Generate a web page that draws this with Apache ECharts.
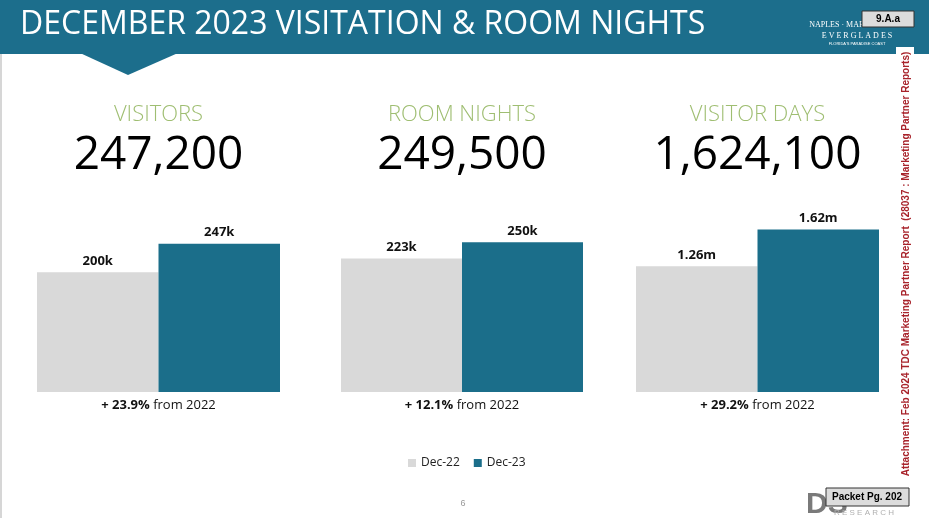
<!DOCTYPE html>
<html>
<head>
<meta charset="utf-8">
<script src="https://cdn.jsdelivr.net/npm/echarts@6/dist/echarts.min.js"></script>
<style>
  html, body { margin: 0; padding: 0; background: #ffffff; }
  #chart { width: 929px; height: 518px; }
</style>
</head>
<body>
<div id="chart"></div>
<script>
// ---- data ----
const seriesNames = ['Dec-22', 'Dec-23'];
const metrics = ['VISITORS', 'ROOM NIGHTS', 'VISITOR DAYS'];
const totals = ['247,200', '249,500', '1,624,100'];
const dec22 = [199500, 222600, 1257000];
const dec23 = [247200, 249500, 1624100];
const changes = ['+ 23.9%', '+ 12.1%', '+ 29.2%'];
const changeSuffix = ' from 2022';
const axisMax = [300000, 300000, 1800000];

// ---- layout ----
const gridLeft = [37, 341, 636];
const gridWidth = [243, 242, 243];
const gridTop = 212, gridHeight = 180;
const GREY = '#d9d9d9', TEAL = '#1b6e8a', HEAD = '#1c6e8c', GREEN = '#9fbe72';
const FONT = '"Open Sans", Lato, sans-serif';

function fmt(v) {
  if (v >= 1e6) return (v / 1e6).toFixed(2) + 'm';
  return Math.round(v / 1000) + 'k';
}

const grids = [], xAxes = [], yAxes = [], series = [], graphics = [];
metrics.forEach((m, i) => {
  grids.push({ left: gridLeft[i], width: gridWidth[i], top: gridTop, height: gridHeight });
  xAxes.push({ type: 'category', gridIndex: i, data: [m], show: false });
  yAxes.push({ type: 'value', gridIndex: i, min: 0, max: axisMax[i], show: false });
  [dec22, dec23].forEach((arr, s) => {
    series.push({
      name: seriesNames[s], type: 'bar', xAxisIndex: i, yAxisIndex: i,
      data: [arr[i]], barGap: '0%', barCategoryGap: '0%',
      itemStyle: { color: s === 0 ? GREY : TEAL },
      label: {
        show: true, position: 'top', distance: 5,
        formatter: p => fmt(p.value),
        fontFamily: FONT, fontWeight: 'bold', fontSize: 13, color: '#111'
      },
      emphasis: { disabled: true }, animation: false
    });
  });
  const cx = gridLeft[i] + gridWidth[i] / 2;
  graphics.push({
    type: 'text', x: cx, y: 115,
    style: { text: m, fill: GREEN, font: '300 22px ' + FONT, textAlign: 'center', textVerticalAlign: 'middle' }
  });
  graphics.push({
    type: 'text', x: cx, y: 156,
    style: { text: totals[i], fill: '#000', font: '400 46px ' + FONT, textAlign: 'center', textVerticalAlign: 'middle' }
  });
  graphics.push({
    type: 'text', x: cx, y: 405,
    style: {
      text: '{b|' + changes[i] + '}{n|' + changeSuffix + '}',
      textAlign: 'center', textVerticalAlign: 'middle',
      rich: {
        b: { fontFamily: FONT, fontWeight: 'bold', fontSize: 13, fill: '#111' },
        n: { fontFamily: FONT, fontWeight: 'normal', fontSize: 13, fill: '#111' }
      }
    }
  });
});

// header & decorations
graphics.unshift(
  { type: 'rect', shape: { x: 0, y: 0, width: 929, height: 54 }, style: { fill: HEAD }, z: 0 },
  { type: 'polygon', shape: { points: [[80, 53], [178, 53], [128, 75]] }, style: { fill: HEAD }, z: 0 },
  { type: 'rect', shape: { x: 0, y: 54, width: 2, height: 464 }, style: { fill: '#d6d6d6' } },
  { type: 'rect', shape: { x: 896, y: 47, width: 18, height: 7 }, style: { fill: '#ffffff' } }
);
graphics.push(
  { type: 'text', x: 20, y: 25, style: { text: 'DECEMBER 2023 VISITATION & ROOM NIGHTS', fill: '#ffffff', font: '400 32px ' + FONT, textVerticalAlign: 'middle' } },
  // logo
  { type: 'text', x: 858, y: 25, style: { text: 'NAPLES · MARCO ISLAND', fill: '#ffffff', font: '8px "Liberation Serif", serif', textAlign: 'center', textVerticalAlign: 'middle' } },
  { type: 'text', x: 857, y: 36, style: { text: 'E V E R G L A D E S', fill: '#ffffff', font: '8px "Liberation Serif", serif', textAlign: 'center', textVerticalAlign: 'middle' } },
  { type: 'text', x: 857, y: 44, style: { text: "FLORIDA'S PARADISE COAST", fill: '#ffffff', font: '4px "Liberation Sans", sans-serif', textAlign: 'center', textVerticalAlign: 'middle' } },
  { type: 'rect', shape: { x: 862, y: 11, width: 52, height: 16 }, style: { fill: '#dcdcdc', stroke: '#333', lineWidth: 1 } },
  { type: 'text', x: 888, y: 19, style: { text: '9.A.a', fill: '#000', font: 'bold 10px "Liberation Sans", Arial, sans-serif', textAlign: 'center', textVerticalAlign: 'middle' } },
  // side attachment text
  { type: 'text', x: 906, y: 264, rotation: Math.PI / 2,
    style: { text: 'Attachment: Feb 2024 TDC Marketing Partner Report  (28037 : Marketing Partner Reports)', fill: '#a8232b', font: 'bold 10px "Liberation Sans", Arial, sans-serif', textAlign: 'center', textVerticalAlign: 'middle' } },
  // page number
  { type: 'text', x: 463, y: 504, style: { text: '6', fill: '#999', font: '9px "Liberation Sans", sans-serif', textAlign: 'center', textVerticalAlign: 'middle' } },
  // DS research logo
  { type: 'text', x: 806, y: 505, style: { text: 'DS', fill: '#7a7a7a', font: 'bold 30px "Liberation Sans", sans-serif', textVerticalAlign: 'middle' } },
  { type: 'text', x: 834, y: 513, style: { text: 'R E S E A R C H', fill: '#b0b0b0', font: '8px "Liberation Sans", sans-serif', textVerticalAlign: 'middle' } },
  { type: 'rect', shape: { x: 826, y: 488, width: 83, height: 18 }, style: { fill: '#dcdcdc', stroke: '#333', lineWidth: 1 } },
  { type: 'text', x: 867, y: 497, style: { text: 'Packet Pg. 202', fill: '#000', font: 'bold 10px "Liberation Sans", Arial, sans-serif', textAlign: 'center', textVerticalAlign: 'middle' } }
);

const chart = echarts.init(document.getElementById('chart'), null, { renderer: 'canvas' });
chart.setOption({
  backgroundColor: '#ffffff',
  animation: false,
  legend: {
    data: seriesNames, left: 403, top: 452, itemWidth: 8, itemHeight: 8, itemGap: 14,
    icon: 'rect',
    textStyle: { fontFamily: FONT, fontSize: 12, color: '#222' },
    selectedMode: false
  },
  grid: grids, xAxis: xAxes, yAxis: yAxes, series: series,
  graphic: graphics
});
</script>
</body>
</html>
